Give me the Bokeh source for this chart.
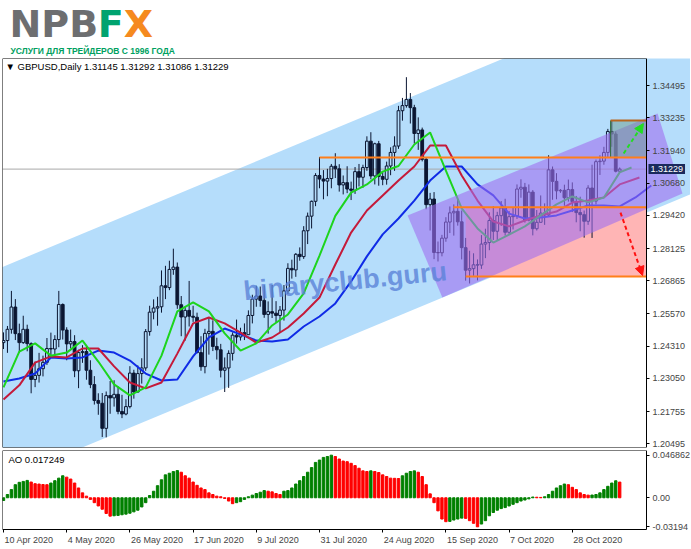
import numpy as np
from bokeh.plotting import figure
from bokeh.layouts import column
from bokeh.models import (Range1d, LinearAxis, FixedTicker, Label, Arrow, NormalHead,
                          CustomJSTickFormatter)
from bokeh.embed import file_html
from bokeh.resources import INLINE
from bokeh.core.properties import value

# ---------------- data (GBPUSD daily, bar index 0 = 10 Apr 2020) ----------------
opens = [1.2445,1.2453,1.2497,1.2584,1.2480,1.2445,1.2497,1.2441,1.2301,1.2317,
         1.2343,1.2368,1.2422,1.2420,1.2457,1.2594,1.2494,1.2440,1.2449,1.2335,
         1.2406,1.2410,1.2337,1.2281,1.2219,1.2208,1.2110,1.2238,1.2229,1.2243,
         1.2176,1.2166,1.2195,1.2326,1.2252,1.2324,1.2346,1.2488,1.2564,1.2580,
         1.2585,1.2667,1.2660,1.2731,1.2740,1.2593,1.2545,1.2571,1.2548,1.2544,
         1.2406,1.2351,1.2481,1.2489,1.2430,1.2417,1.2337,1.2346,1.2403,1.2474,
         1.2467,1.2484,1.2476,1.2551,1.2615,1.2627,1.2610,1.2555,1.2566,1.2560,
         1.2551,1.2572,1.2647,1.2735,1.2729,1.2790,1.2781,1.2882,1.2939,1.2997,
         1.3098,1.3084,1.3076,1.3086,1.3134,1.3124,1.3061,1.3070,1.3045,1.3040,
         1.3113,1.3091,1.3129,1.3232,1.3096,1.3222,1.3094,1.3083,1.3135,1.3188,
         1.3213,1.3351,1.3371,1.3395,1.3363,1.3262,1.3276,1.3161,1.2984,1.3006,
         1.2797,1.2796,1.2853,1.2916,1.2952,1.2958,1.2917,1.2816,1.2728,1.2734,
         1.2749,1.2748,1.2830,1.2836,1.2922,1.2880,1.2941,1.2971,1.2876,1.2937,
         1.2940,1.3045,1.3052,1.2924,1.3033,1.2890,1.2915,1.2951,1.2944,1.3120,
         1.3075,1.3038,1.3040,1.3011,1.3043,1.2996,1.2953,1.2945,1.2919,1.3049,
         1.2998,1.3152,1.3154,1.3188,1.3270,1.3260,1.31145]
highs = [1.2485,1.2510,1.2647,1.2615,1.2519,1.2550,1.2515,1.2446,1.2371,1.2405,
         1.2394,1.2463,1.2484,1.2474,1.2647,1.2598,1.2505,1.2496,1.2474,1.2417,
         1.2435,1.2436,1.2376,1.2314,1.2247,1.2248,1.2254,1.2295,1.2298,1.2274,
         1.2241,1.2224,1.2353,1.2339,1.2356,1.2384,1.2498,1.2589,1.2614,1.2624,
         1.2727,1.2745,1.2765,1.2812,1.2758,1.2627,1.2588,1.2686,1.2589,1.2562,
         1.2470,1.2499,1.2543,1.2532,1.2464,1.2440,1.2387,1.2415,1.2485,1.2535,
         1.2503,1.2520,1.2571,1.2632,1.2667,1.2664,1.2669,1.2606,1.2670,1.2607,
         1.2588,1.2670,1.2755,1.2769,1.2795,1.2817,1.2900,1.2953,1.3000,1.3107,
         1.3170,1.3119,1.3124,1.3143,1.3185,1.3142,1.3098,1.3134,1.3074,1.3131,
         1.3143,1.3140,1.3251,1.3267,1.3226,1.3233,1.3114,1.3152,1.3208,1.3251,
         1.3370,1.3401,1.3482,1.3420,1.3374,1.3325,1.3285,1.3167,1.3030,1.3033,
         1.2840,1.2866,1.2935,1.2977,1.2985,1.3006,1.2961,1.2854,1.2804,1.2794,
         1.2770,1.2865,1.2890,1.2954,1.2978,1.2956,1.2998,1.3007,1.2959,1.2973,
         1.3063,1.3083,1.3069,1.3063,1.3041,1.2963,1.3020,1.2989,1.3177,1.3133,
         1.3107,1.3045,1.3062,1.3082,1.3071,1.3018,1.3015,1.2961,1.3060,1.3140,
         1.3160,1.3177,1.3210,1.3280,1.3312,1.3270,1.31292]
lows = [1.2420,1.2405,1.2480,1.2455,1.2405,1.2440,1.2411,1.2247,1.2271,1.2289,
        1.2313,1.2358,1.2392,1.2388,1.2427,1.2457,1.2376,1.2422,1.2310,1.2267,
        1.2366,1.2300,1.2267,1.2203,1.2163,1.2076,1.2075,1.2167,1.2195,1.2165,
        1.2150,1.2161,1.2188,1.2226,1.2250,1.2285,1.2335,1.2472,1.2536,1.2511,
        1.2562,1.2615,1.2650,1.2710,1.2577,1.2470,1.2453,1.2508,1.2526,1.2403,
        1.2335,1.2325,1.2398,1.2412,1.2379,1.2309,1.2252,1.2268,1.2375,1.2441,
        1.2453,1.2455,1.2475,1.2520,1.2585,1.2585,1.2542,1.2480,1.2541,1.2523,
        1.2483,1.2531,1.2635,1.2695,1.2702,1.2765,1.2772,1.2830,1.2891,1.2978,
        1.3048,1.3005,1.3017,1.3048,1.3088,1.3035,1.3024,1.3029,1.3002,1.3026,
        1.3055,1.3050,1.3116,1.3083,1.3063,1.3058,1.3060,1.3062,1.3099,1.3116,
        1.3202,1.3312,1.3363,1.3301,1.3223,1.3198,1.3153,1.2966,1.2883,1.2771,
        1.2762,1.2782,1.2839,1.2873,1.2863,1.2902,1.2770,1.2687,1.2676,1.2706,
        1.2688,1.2733,1.2775,1.2806,1.2846,1.2845,1.2901,1.2863,1.2866,1.2887,
        1.2928,1.3011,1.2914,1.2919,1.2864,1.2883,1.2914,1.2905,1.2936,1.3003,
        1.3005,1.3030,1.2980,1.2996,1.2955,1.2915,1.2880,1.2855,1.2905,1.2854,
        1.2985,1.3100,1.3140,1.3170,1.3210,1.3110,1.31086]
closes = [1.2453,1.2497,1.2584,1.2480,1.2445,1.2497,1.2441,1.2301,1.2317,1.2343,
          1.2368,1.2422,1.2420,1.2457,1.2594,1.2494,1.2440,1.2449,1.2335,1.2406,
          1.2410,1.2337,1.2281,1.2219,1.2208,1.2110,1.2238,1.2229,1.2243,1.2176,
          1.2166,1.2195,1.2326,1.2252,1.2324,1.2346,1.2488,1.2564,1.2580,1.2585,
          1.2667,1.2660,1.2731,1.2740,1.2593,1.2545,1.2571,1.2548,1.2544,1.2406,
          1.2351,1.2481,1.2489,1.2430,1.2417,1.2337,1.2346,1.2403,1.2474,1.2467,
          1.2484,1.2476,1.2551,1.2615,1.2627,1.2610,1.2555,1.2566,1.2560,1.2551,
          1.2572,1.2647,1.2735,1.2729,1.2790,1.2781,1.2882,1.2939,1.2997,1.3098,
          1.3084,1.3076,1.3086,1.3134,1.3124,1.3061,1.3070,1.3045,1.3040,1.3113,
          1.3091,1.3129,1.3232,1.3096,1.3222,1.3094,1.3083,1.3135,1.3188,1.3213,
          1.3351,1.3371,1.3395,1.3363,1.3262,1.3276,1.3161,1.2984,1.3006,1.2797,
          1.2796,1.2853,1.2916,1.2952,1.2958,1.2917,1.2816,1.2728,1.2734,1.2749,
          1.2748,1.2830,1.2836,1.2922,1.2880,1.2941,1.2971,1.2876,1.2937,1.2940,
          1.3045,1.3052,1.2924,1.3033,1.2890,1.2915,1.2951,1.2944,1.3120,1.3075,
          1.3038,1.3040,1.3011,1.3043,1.2996,1.2953,1.2945,1.2919,1.3049,1.2998,
          1.3152,1.3154,1.3188,1.3270,1.3260,1.31145,1.31229]

ao_values = [-0.0030,0.0036,0.0090,0.0144,0.0170,0.0180,0.0191,0.0173,0.0155,0.0151,
             0.0146,0.0144,0.0162,0.0188,0.0216,0.0242,0.0227,0.0206,0.0162,0.0108,
             0.0054,0.0018,-0.0018,-0.0054,-0.0090,-0.0126,-0.0173,-0.0202,-0.0198,-0.0194,
             -0.0187,-0.0180,-0.0170,-0.0155,-0.0137,-0.0101,-0.0054,0.0025,0.0072,0.0133,
             0.0198,0.0252,0.0270,0.0288,0.0299,0.0281,0.0242,0.0216,0.0173,0.0137,
             0.0108,0.0090,0.0054,0.0036,0.0018,0.0011,-0.0007,-0.0036,-0.0065,-0.0054,
             -0.0043,-0.0018,0.0011,0.0029,0.0047,0.0061,0.0079,0.0072,0.0065,0.0047,
             0.0036,0.0072,0.0079,0.0108,0.0151,0.0188,0.0234,0.0281,0.0332,0.0389,
             0.0415,0.0444,0.0454,0.046862,0.0454,0.0426,0.0404,0.0397,0.0379,0.0354,
             0.0325,0.0296,0.0289,0.0296,0.0289,0.0278,0.0252,0.0234,0.0216,0.0214,
             0.0212,0.0242,0.0270,0.0289,0.0296,0.0281,0.0234,0.0144,0.0043,-0.0054,
             -0.0144,-0.0234,-0.0263,-0.0260,-0.0245,-0.0234,-0.0224,-0.0227,-0.0252,-0.0281,
             -0.03194,-0.0289,-0.0252,-0.0198,-0.0162,-0.0137,-0.0119,-0.0108,-0.0090,-0.0072,
             -0.0054,-0.0036,-0.0025,-0.0012,0.0008,0.0006,0.0004,0.0011,0.0036,0.0072,
             0.0108,0.0133,0.0151,0.0144,0.0115,0.0090,0.0054,0.0036,0.0029,0.0030,
             0.0036,0.0054,0.0090,0.0126,0.0162,0.0187,0.017249]

# Alligator lines, read every 4 bars (they run past the last bar by their shift)
jaw_bars = list(range(0, 165, 4))
jaw = [1.2293,1.2305,1.2324,1.2387,1.2383,1.2387,1.2414,1.2406,1.2375,1.2324,
       1.2297,1.2301,1.2391,1.2465,1.2500,1.2477,1.2453,1.2449,1.2457,1.2508,
       1.2547,1.2598,1.2684,1.2782,1.2868,1.2930,1.3000,1.3078,1.3133,1.3133,
       1.3063,1.3020,1.2949,1.2930,1.2934,1.2942,1.2961,1.2981,1.2981,1.2977,
       1.3012,1.3059]
teeth_bars = list(range(0, 157, 4)) + [161]
teeth = [1.2223,1.2278,1.2367,1.2391,1.2387,1.2422,1.2422,1.2352,1.2289,1.2266,
         1.2289,1.2402,1.2520,1.2543,1.2520,1.2484,1.2445,1.2465,1.2504,1.2559,
         1.2621,1.2750,1.2875,1.2961,1.3020,1.3078,1.3133,1.3215,1.3215,1.3098,
         1.3000,1.2918,1.2899,1.2922,1.2942,1.2957,1.2992,1.3000,1.3012,1.3063,
         1.3090]
lips_bars = list(range(0, 157, 4)) + [159]
lips = [1.2270,1.2410,1.2442,1.2394,1.2406,1.2453,1.2371,1.2282,1.2239,1.2270,
        1.2394,1.2567,1.2602,1.2567,1.2481,1.2414,1.2442,1.2512,1.2555,1.2637,
        1.2785,1.2940,1.3031,1.3063,1.3113,1.3135,1.3219,1.3266,1.3117,1.2969,
        1.2891,1.2836,1.2867,1.2899,1.2942,1.2985,1.3016,1.2993,1.3012,1.3110,
        1.3129]

date_tick_bars = [0, 16, 32, 48, 64, 80, 96, 112, 128, 144]
date_tick_labels = ["10 Apr 2020", "4 May 2020", "26 May 2020", "17 Jun 2020", "9 Jul 2020",
                    "31 Jul 2020", "24 Aug 2020", "15 Sep 2020", "7 Oct 2020", "28 Oct 2020"]
price_ticks = [1.20495, 1.21755, 1.23050, 1.24310, 1.25570, 1.26865,
               1.28125, 1.29420, 1.30680, 1.31940, 1.33235, 1.34495]
ao_ticks = [-0.03194, 0.0, 0.046862]

# analyst drawings (bar index, price)
channel_bars = [-5, 180]
channel_top = [1.2710, 1.3898]
channel_bottom = [1.1875, 1.3063]
purple_bars = [102.3, 165.6, 171.9, 111.1]
purple_prices = [1.2942, 1.3340, 1.3028, 1.2621]
level_start = [80.0, 113.9, 117.0]
level_price = [1.3168, 1.2974, 1.2703]
zone_start, zone_low, zone_high = 117.0, 1.2703, 1.2974
target_start, target_low, target_high = 153.7, 1.3168, 1.3313
up_arrow = (157.0, 1.3184, 162.0, 1.3301)
down_arrow = (156.2, 1.2953, 161.8, 1.2707)
symbol, timeframe = "GBPUSD", "Daily"

# ---------------- styling / layout ----------------
FONT = "Liberation Sans"
W = 690
FRAME_W = W - 2
AXIS_X = 162.78
CANDLE = "#0B1632"
xr = Range1d(-0.253, -0.253 + FRAME_W / 3.95)
yr = Range1d(1.20352, 1.35550)
ar = Range1d(-0.0558, 0.0520)      # AO panel plus the strip that carries the date labels
AO_BOTTOM = -0.0349                # lower edge of the AO panel
PXB = FRAME_W / (xr.end - xr.start)          # pixels per bar

# Arial/Liberation Sans advance widths (em) to left-align the date labels at their ticks
_cw = {d: 0.556 for d in "0123456789"}
_cw.update({" ": 0.278, "A": 0.667, "M": 0.833, "J": 0.5, "S": 0.667, "O": 0.778,
            "p": 0.556, "r": 0.333, "a": 0.556, "y": 0.5, "u": 0.556, "n": 0.556,
            "l": 0.222, "g": 0.556, "e": 0.556, "c": 0.5, "t": 0.278})
DATE_FS = 9
label_centers = [b + (sum(_cw.get(ch, 0.556) for ch in s) * DATE_FS / 2 + 1) / PXB
                 for b, s in zip(date_tick_bars, date_tick_labels)]


def plain_axis(**kw):
    return LinearAxis(ticker=FixedTicker(ticks=[]), major_tick_line_color=None,
                      minor_tick_line_color=None, axis_line_color="black", **kw)


def make_fig(yrange, bottom, **kw):
    f = figure(width=W, x_range=xr, y_range=yrange, output_backend="svg",
               toolbar_location=None, x_axis_type=None, y_axis_type=None,
               min_border_left=2, min_border_right=0, outline_line_color=None,
               background_fill_color="white", border_fill_color="white", **kw)
    f.add_layout(plain_axis(fixed_location=xr.start, bounds=(bottom, yrange.end)), "left")
    f.add_layout(plain_axis(fixed_location=yrange.end, bounds=(xr.start, AXIS_X)), "above")
    return f


# ---------------- logo ----------------
LOGO_H = 57
logo = figure(width=W, height=LOGO_H, x_range=Range1d(0, W), y_range=Range1d(0, LOGO_H),
              output_backend="svg", toolbar_location=None, x_axis_type=None, y_axis_type=None,
              min_border=0, outline_line_color=None)
big = dict(text_font=value("DejaVu Sans"), text_font_style="bold", text_font_size="38px",
           text_baseline="middle")
logo.text(x=[7], y=[LOGO_H - 23], text=["NPB"], text_color="#6D6E70", **big)
logo.text(x=[95.6], y=[LOGO_H - 23], text=["F"], text_color="#00A36F", **big)
logo.text(x=[121.6], y=[LOGO_H - 23], text=["X"], text_color="#F58A1F", **big)
logo.text(x=[8], y=[LOGO_H - 50], text=["УСЛУГИ ДЛЯ ТРЕЙДЕРОВ С 1996 ГОДА"],
          text_color="#00A060", text_font=value(FONT), text_font_style="bold",
          text_font_size="8.5px", text_baseline="middle")

# ---------------- main price panel ----------------
p = make_fig(yr, yr.start, height=391, min_border_top=1, min_border_bottom=1)
p.add_layout(plain_axis(fixed_location=yr.start, bounds=(xr.start, AXIS_X)), "below")

p.varea(x=channel_bars, y1=channel_bottom, y2=channel_top, fill_color="#B5DDFB")
p.quad(left=[zone_start], right=[AXIS_X], bottom=[zone_low], top=[zone_high],
       fill_color="#FFB5B5", line_color=None)
p.segment(x0=[xr.start], x1=[AXIS_X], y0=[closes[-1]], y1=[closes[-1]],
          line_color="#A8A8A8", line_width=1)

idx = np.arange(len(closes))
o, h, l, c = map(np.array, (opens, highs, lows, closes))
btop, bbot = np.maximum(o, c), np.minimum(o, c)
bull = c >= o
p.segment(x0=idx, x1=idx, y0=h, y1=btop, line_color=CANDLE, line_width=1)
p.segment(x0=idx, x1=idx, y0=bbot, y1=l, line_color=CANDLE, line_width=1)
p.vbar(x=idx[bull], top=btop[bull], bottom=bbot[bull], width=0.7,
       fill_color=None, line_color=CANDLE, line_width=1)
p.vbar(x=idx[~bull], top=btop[~bull], bottom=bbot[~bull], width=0.7,
       fill_color=CANDLE, line_color=CANDLE, line_width=1)

p.line(jaw_bars, jaw, line_color="#0F2BE6", line_width=2)
p.line(teeth_bars, teeth, line_color="#C41A3A", line_width=2)
p.line(lips_bars, lips, line_color="#1DD41D", line_width=2)

p.patch(purple_bars, purple_prices, fill_color="#A070F0", fill_alpha=0.6, line_color=None)

p.quad(left=[target_start], right=[AXIS_X], bottom=[target_low], top=[target_high],
       fill_color="#6E9C8E", fill_alpha=0.5, line_color=None)
p.segment(x0=[target_start], x1=[target_start], y0=[target_low], y1=[target_high],
          line_color="#2E6B3A", line_width=1)
p.segment(x0=level_start, x1=[AXIS_X] * len(level_start), y0=level_price, y1=level_price,
          line_color="#FF7F1A", line_width=2)
p.segment(x0=[target_start], x1=[AXIS_X], y0=[target_high], y1=[target_high],
          line_color="#B8661E", line_width=2)

p.add_layout(Arrow(end=NormalHead(size=9, fill_color="#22DD22", line_color="#22DD22"),
                   x_start=up_arrow[0], y_start=up_arrow[1], x_end=up_arrow[2], y_end=up_arrow[3],
                   line_color="#22DD22", line_width=2, line_dash="4 3"))
p.add_layout(Arrow(end=NormalHead(size=9, fill_color="#FF1010", line_color="#FF1010"),
                   x_start=down_arrow[0], y_start=down_arrow[1], x_end=down_arrow[2],
                   y_end=down_arrow[3], line_color="#FF1010", line_width=2, line_dash="4 3"))

p.add_layout(Label(x=60.8, y=1.2645, text="binaryclub.guru", angle=0.1,
                   text_baseline="alphabetic",
                   text_font=FONT, text_font_style="bold", text_font_size="27px",
                   text_color="#5A82D8", text_alpha=0.8))

pax = LinearAxis(fixed_location=AXIS_X, ticker=FixedTicker(ticks=price_ticks),
                 formatter=CustomJSTickFormatter(code="return tick.toFixed(5);"),
                 major_tick_in=0, major_tick_out=3, minor_tick_line_color=None,
                 major_label_standoff=3, major_label_text_font=FONT,
                 major_label_text_font_size="9px", axis_line_color="black")
p.add_layout(pax, "right")

p.add_layout(Label(x=AXIS_X, y=closes[-1], x_offset=2, text=f"{closes[-1]:.5f}",
                   text_baseline="middle", text_align="left", text_color="white",
                   background_fill_color="#1B2A5B", padding=2,
                   text_font=FONT, text_font_size="9px"))
p.add_layout(Label(x=3, y=381, x_units="screen", y_units="screen",
                   text=f"\u25BC {symbol},{timeframe}  {opens[-1]:.5f} {highs[-1]:.5f} "
                        f"{lows[-1]:.5f} {closes[-1]:.5f}",
                   text_baseline="middle", text_font=FONT, text_font_size="9.5px",
                   text_color="black"))

# ---------------- Awesome Oscillator panel ----------------
a = make_fig(ar, AO_BOTTOM, frame_height=98, min_border_top=2, min_border_bottom=0)
ao = np.array(ao_values)
ao_colors = ["#008000"] + ["#008000" if ao[i] > ao[i - 1] else "#FF0000"
                           for i in range(1, len(ao))]
a.vbar(x=idx, top=ao, bottom=0, width=0.6, color=ao_colors)

aax = LinearAxis(fixed_location=AXIS_X, bounds=(AO_BOTTOM, ar.end),
                 ticker=FixedTicker(ticks=ao_ticks),
                 formatter=CustomJSTickFormatter(code="return tick == 0 ? '0.00' : String(tick);"),
                 major_tick_in=0, major_tick_out=3, minor_tick_line_color=None,
                 major_label_standoff=3, major_label_text_font=FONT,
                 major_label_text_font_size="9px", axis_line_color="black")
a.add_layout(aax, "right")

# time axis: tick marks at the bars (minor ticks), labels starting at each tick
dax = LinearAxis(fixed_location=AO_BOTTOM, bounds=(xr.start, AXIS_X),
                 ticker=FixedTicker(ticks=label_centers, minor_ticks=date_tick_bars),
                 formatter=CustomJSTickFormatter(
                     args=dict(centers=label_centers, labels=date_tick_labels),
                     code="for (let i = 0; i < centers.length; i++) {"
                          " if (Math.abs(tick - centers[i]) < 1e-6) return labels[i]; }"
                          " return '';"),
                 major_tick_in=0, major_tick_out=3, major_tick_line_color=None,
                 minor_tick_in=0, minor_tick_out=3, minor_tick_line_color="black",
                 axis_line_color="black", major_label_standoff=2,
                 major_label_text_font=FONT, major_label_text_font_size=f"{DATE_FS}px")
a.add_layout(dax, "below")

a.add_layout(Label(x=6, y=89, x_units="screen", y_units="screen",
                   text=f"AO {ao_values[-1]:.6f}", text_baseline="middle",
                   text_font=FONT, text_font_size="9.5px", text_color="black"))

layout = column(logo, p, a)
with open("out.html", "w", encoding="utf-8") as fh:
    fh.write(file_html(layout, INLINE, "GBPUSD Daily"))
